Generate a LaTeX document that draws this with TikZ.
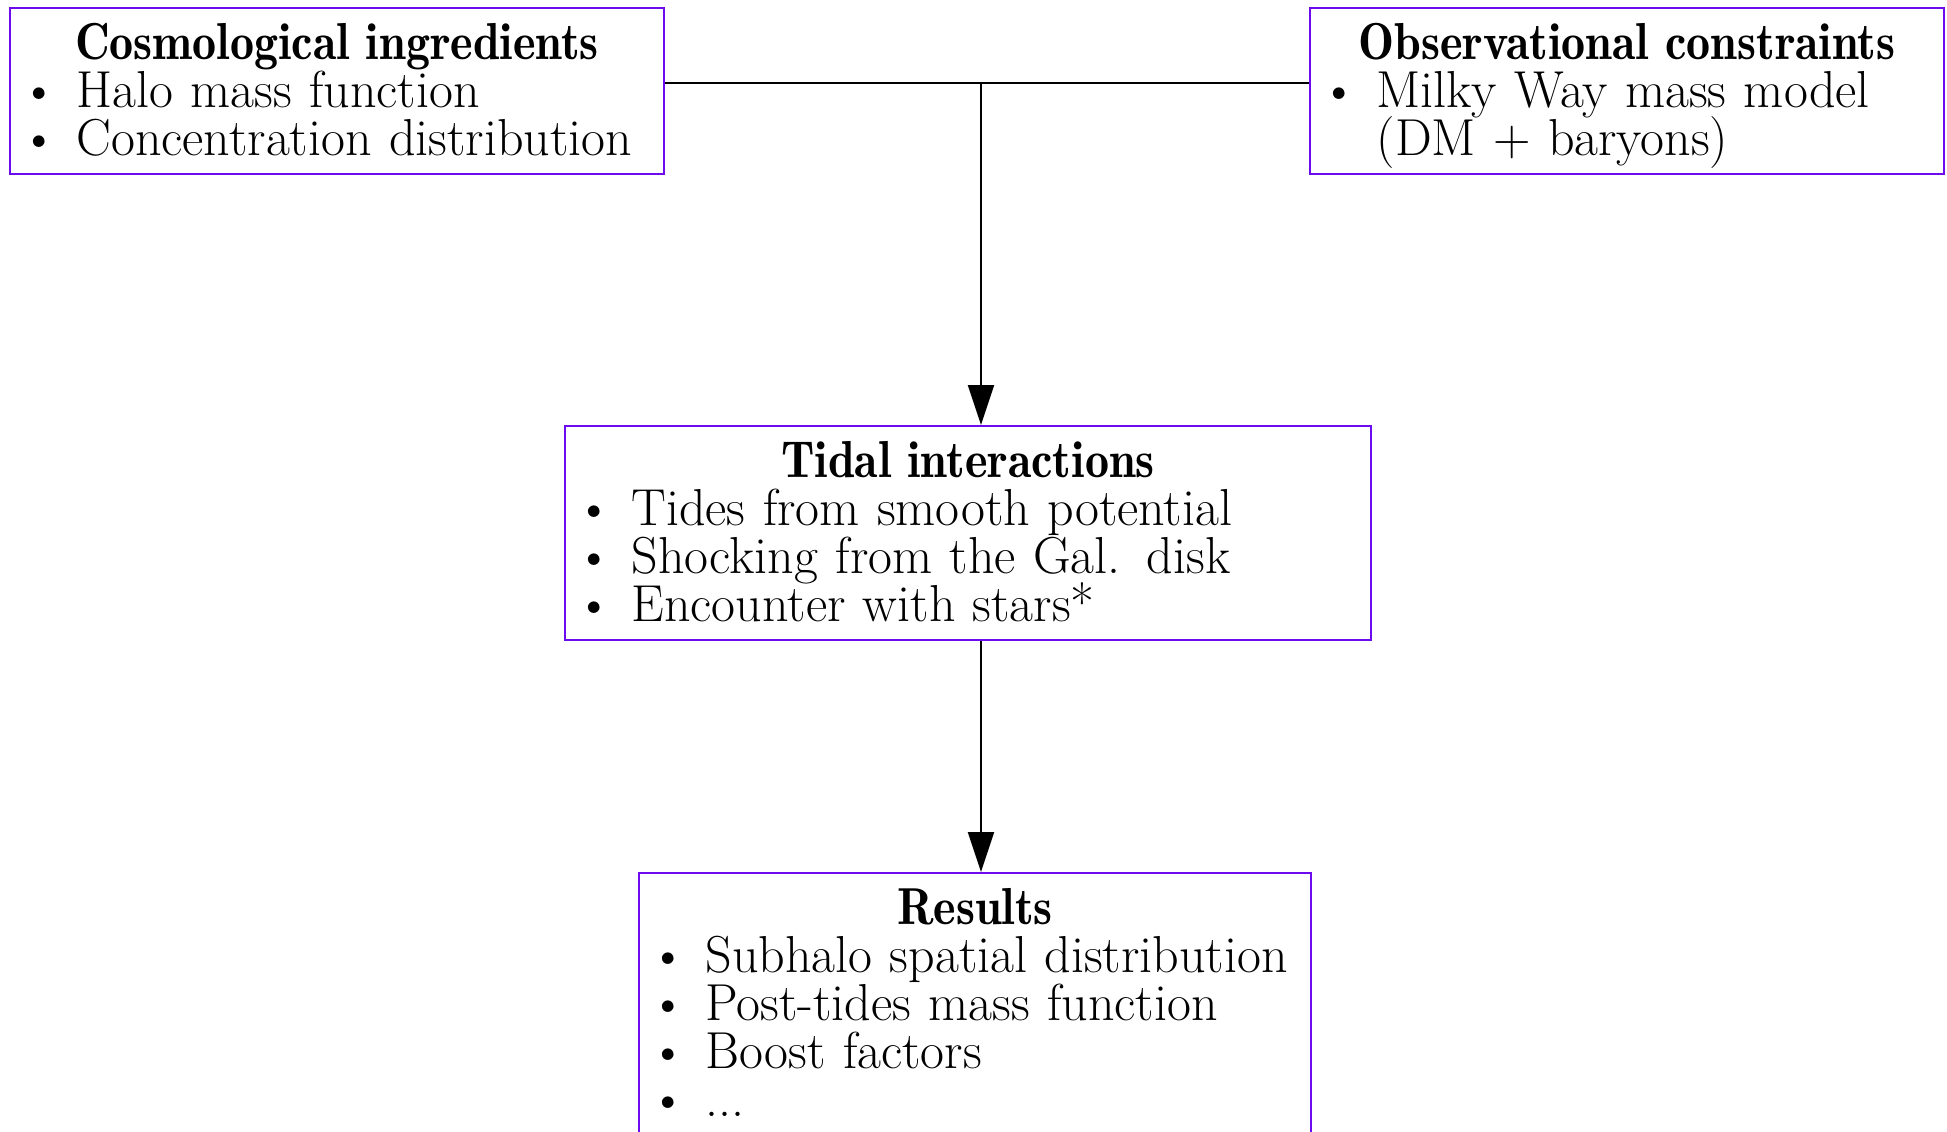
\documentclass[tikz,border=0pt]{standalone}
\usepackage{graphicx}
\usetikzlibrary{arrows.meta}
\definecolor{boxviolet}{RGB}{108,10,240}
\newcommand{\itm}[1]{\makebox[28pt][l]{\textbullet}#1\par}
\newcommand{\lastitm}[1]{\makebox[28pt][l]{\textbullet}#1\vrule height 0pt depth 9.5pt width 0pt\par}
\newcommand{\ttl}[1]{\lineskiplimit=-100pt\relax{\centering\fontsize{26}{24}\fontseries{b}\selectfont\vrule height 25.5pt depth 0pt width 0pt \scalebox{0.925}[1]{#1}\par}}
\begin{document}
\begin{tikzpicture}[x=0.5pt,y=-0.5pt,
  box/.style={draw=boxviolet,line width=1pt,inner xsep=5.3pt,inner ysep=0pt,
    anchor=north,align=left,font=\fontsize{26}{24}\selectfont},
  conn/.style={line width=1pt},
  arr/.style={line width=1pt,-{Triangle[length=20pt,width=13pt]}}]
\useasboundingbox (0,0) rectangle (1947,1131);
\clip (0,0) rectangle (1947,1131);
\node[box,text width=316.4pt] (cosmo) at (337,7)
  {\ttl{Cosmological ingredients}\itm{Halo mass function}\lastitm{Concentration distribution}};
\node[box,text width=306.4pt] (obs) at (1627,7)
  {\ttl{Observational constraints}\itm{Milky Way mass model}\hspace*{28pt}(DM + baryons)\vrule height 0pt depth 9.5pt width 0pt\par};
\node[box,text width=392.4pt] (tidal) at (968,425)
  {\ttl{Tidal interactions}\itm{Tides from smooth potential}\itm{Shocking from the Gal. disk}\lastitm{Encounter with stars*}};
\node[box,text width=325.4pt] (res) at (975,872)
  {\ttl{Results}\itm{Subhalo spatial distribution}\itm{Post-tides mass function}\itm{Boost factors}\lastitm{...}};
\coordinate (j) at (981,83);
\draw[conn] (cosmo.east |- j) -- (obs.west |- j);
\draw[arr] (j) -- (tidal.north -| j);
\draw[arr] (tidal.south -| j) -- (res.north -| j);
\end{tikzpicture}
\end{document}
